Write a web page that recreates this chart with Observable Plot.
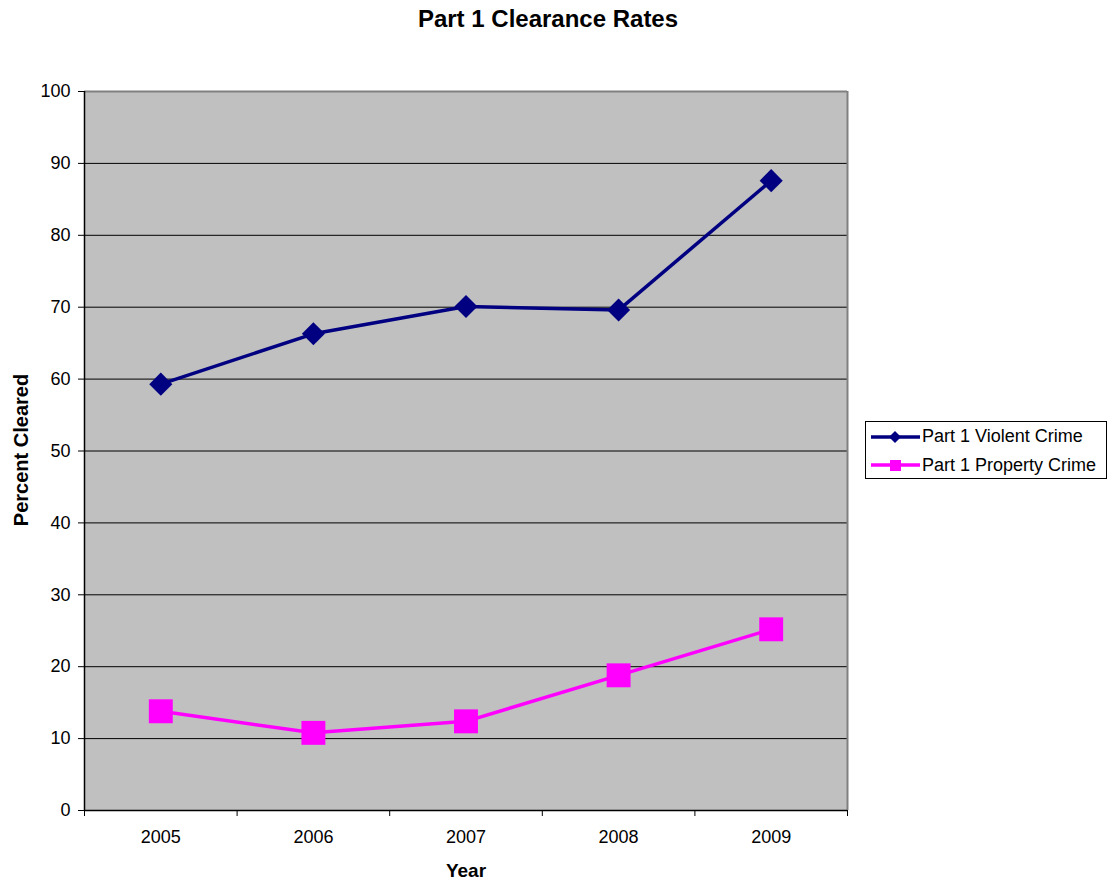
<!DOCTYPE html>
<html>
<head>
<meta charset="utf-8">
<script src="https://cdn.jsdelivr.net/npm/d3@7"></script>
<script src="https://cdn.jsdelivr.net/npm/@observablehq/plot@0.6"></script>
<style>
  body { margin: 0; background: #fff; font-family: "Liberation Sans", Arial, sans-serif; }
  #wrap { position: relative; width: 1107px; height: 882px; }
  #chart { position: absolute; left: 0; top: 0; }
  .title { position: absolute; left: 348px; width: 400px; top: 7px; line-height: 24px; text-align: center; font-weight: bold; font-size: 24px; white-space: nowrap; }
  .ylab { position: absolute; left: 21px; top: 450px; line-height: 20px; transform: translate(-50%, -50%) rotate(-90deg); font-weight: bold; font-size: 20px; white-space: nowrap; }
  .xlab { position: absolute; left: 466px; top: 861px; line-height: 19px; transform: translateX(-50%); font-weight: bold; font-size: 19px; white-space: nowrap; }
  .legend { position: absolute; left: 865px; top: 421px; width: 242px; height: 58px; border: 1px solid #000; box-sizing: border-box; background: #fff; font-size: 18px; }
  .legend .row { position: absolute; left: 4px; height: 24px; display: flex; align-items: center; white-space: nowrap; }
  .legend svg { margin-right: 2px; }
</style>
</head>
<body>
<div id="wrap">
  <div id="chart"></div>
  <div class="title">Part 1 Clearance Rates</div>
  <div class="ylab">Percent Cleared</div>
  <div class="xlab">Year</div>
  <div class="legend" id="legend"></div>
</div>
<script>
const years = [2005, 2006, 2007, 2008, 2009];
const violent = [59.3, 66.3, 70.1, 69.6, 87.6];
const property = [13.8, 10.8, 12.4, 18.8, 25.2];
const yTicks = [0, 10, 20, 30, 40, 50, 60, 70, 80, 90, 100];
const seriesNames = ["Part 1 Violent Crime", "Part 1 Property Crime"];
const seriesColors = ["#000080", "#FF00FF"];

const rows = [];
years.forEach((y, i) => {
  rows.push({year: y, value: violent[i], series: seriesNames[0]});
  rows.push({year: y, value: property[i], series: seriesNames[1]});
});
const edges = [years[0] - 0.5, ...years.map(y => y + 0.5)];
const xDomain = [edges[0], edges[edges.length - 1]];
const yDomain = [yTicks[0], yTicks[yTicks.length - 1]];

const chart = Plot.plot({
  width: 1107,
  height: 882,
  marginLeft: 84,
  marginRight: 260,
  marginTop: 91,
  marginBottom: 72,
  style: {fontFamily: "'Liberation Sans', Arial, sans-serif", fontSize: "18px", color: "#000", background: "transparent"},
  x: {domain: xDomain, label: null},
  y: {domain: yDomain, label: null},
  marks: [
    Plot.frame({fill: "#C0C0C0", stroke: null}),
    Plot.gridY(yTicks.slice(1, -1), {stroke: "#000", strokeOpacity: 1, strokeWidth: 1}),
    Plot.ruleY([yDomain[1]], {stroke: "#808080", strokeWidth: 2}),
    Plot.ruleX([xDomain[1]], {stroke: "#808080", strokeWidth: 2}),
    Plot.axisY({ticks: yTicks, tickSize: 6, tickPadding: 8, tickFormat: d => d, label: null, fontSize: 18}),
    Plot.axisX({ticks: years, tickSize: 0, tickPadding: 20, tickFormat: d => String(d), label: null, fontSize: 18}),
    Plot.axisX({ticks: edges, tickSize: 6, tickFormat: () => "", label: null}),
    Plot.ruleX([xDomain[0]], {stroke: "#000", strokeWidth: 1.5}),
    Plot.ruleY([yDomain[0]], {stroke: "#000", strokeWidth: 1.5}),
    Plot.line(rows, {x: "year", y: "value", z: "series", stroke: d => d.series === seriesNames[0] ? seriesColors[0] : seriesColors[1], strokeWidth: 3.5}),
    Plot.dot(rows.filter(d => d.series === seriesNames[0]), {x: "year", y: "value", symbol: "diamond2", r: 10.4, fill: seriesColors[0], stroke: null}),
    Plot.dot(rows.filter(d => d.series === seriesNames[1]), {x: "year", y: "value", symbol: "square", r: 13.5, fill: seriesColors[1], stroke: null})
  ]
});
document.getElementById("chart").appendChild(chart);

const legend = document.getElementById("legend");
seriesNames.forEach((name, i) => {
  const row = document.createElement("div");
  row.className = "row";
  row.style.top = (2.7 + i * 28.6) + "px";
  const sym = i === 0
    ? '<polygon points="25,5 31,11 25,17 19,11" fill="' + seriesColors[i] + '"/>'
    : '<rect x="20" y="6" width="11" height="11" fill="' + seriesColors[i] + '"/>';
  row.innerHTML = '<svg width="50" height="22"><line x1="1" x2="50" y1="11" y2="11" stroke="' + seriesColors[i] + '" stroke-width="3.5"/>' + sym + '</svg><span>' + name + '</span>';
  legend.appendChild(row);
});
</script>
</body>
</html>
